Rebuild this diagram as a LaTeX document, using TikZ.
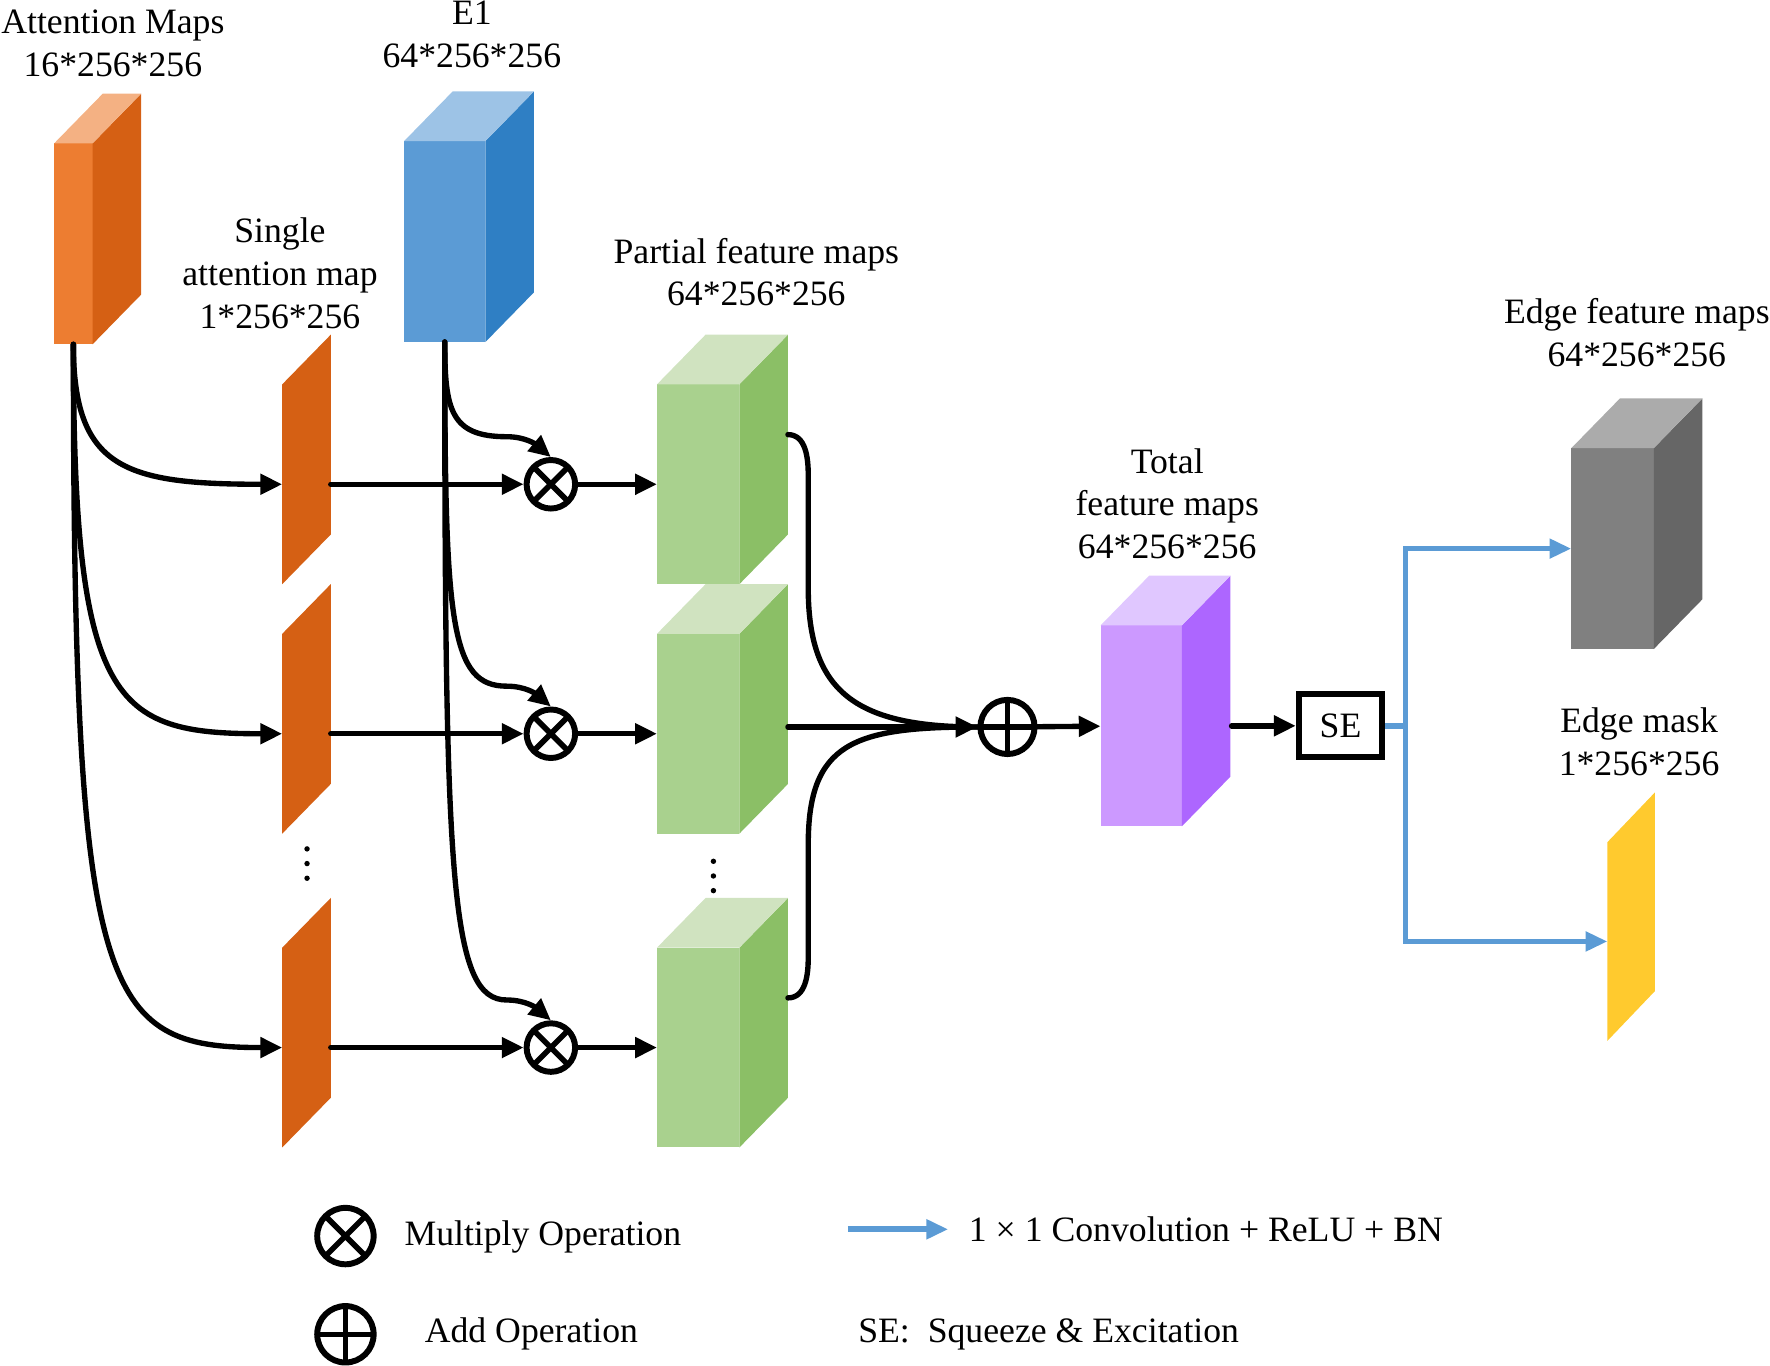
\documentclass[tikz,border=0pt]{standalone}
\usepackage{fontspec}
\setmainfont{Liberation Serif}
\usetikzlibrary{arrows.meta,calc}

\definecolor{orgF}{RGB}{237,125,49}
\definecolor{orgS}{RGB}{213,96,20}
\definecolor{orgT}{RGB}{244,177,131}
\definecolor{bluF}{RGB}{91,155,213}
\definecolor{bluS}{RGB}{47,127,196}
\definecolor{bluT}{RGB}{157,195,230}
\definecolor{grnF}{RGB}{169,209,142}
\definecolor{grnS}{RGB}{139,191,102}
\definecolor{grnT}{RGB}{208,227,192}
\definecolor{prpF}{RGB}{204,153,255}
\definecolor{prpS}{RGB}{173,102,255}
\definecolor{prpT}{RGB}{224,199,255}
\definecolor{gryF}{RGB}{128,128,128}
\definecolor{gryS}{RGB}{102,102,102}
\definecolor{gryT}{RGB}{171,171,171}
\definecolor{ylw}{RGB}{255,202,46}
\definecolor{convblue}{RGB}{91,155,213}

\tikzset{
    lbl/.style={align=center,inner sep=0pt,font=\fontsize{18}{21.5}\selectfont},
    conn/.style={line width=2.7pt,line cap=round},
    arr/.style={-{Triangle[length=11pt,width=10pt]}},
    conv/.style={line width=2.7pt,convblue,-{Triangle[length=11pt,width=9.5pt]}},
    mulop/.style={circle,draw,line width=3pt,minimum size=0.86cm,inner sep=0pt,
        path picture={\draw[line width=2.8pt]
            (path picture bounding box.north west)--(path picture bounding box.south east)
            (path picture bounding box.north east)--(path picture bounding box.south west);}},
    addop/.style={circle,draw,line width=3pt,minimum size=0.96cm,inner sep=0pt,
        path picture={\draw[line width=2.8pt]
            (path picture bounding box.north)--(path picture bounding box.south)
            (path picture bounding box.west)--(path picture bounding box.east);}},
}

% front face as a node, side and top faces behind it
\newcommand{\cuboid}[5]{%
    \node[fill=#5F,minimum width=#3*0.02cm,minimum height=#4*0.02cm,inner sep=0pt,outer sep=0pt] (#1) at (#2) {};
    \fill[#5S] (#1.north east) -- ++(43,44) -- ++(0,-#4) -- (#1.south east) -- cycle;
    \fill[#5T] (#1.north west) -- ++(43,44) -- ++(#3,0) -- (#1.north east) -- cycle;
}
% a single slice, seen from the side
\newcommand{\slab}[5]{%
    \node[minimum width=#3*0.02cm,minimum height=#4*0.02cm,inner sep=0pt,outer sep=0pt] (#1) at (#2) {};
    \fill[#5] (#1.south west) -- (#1.north west) -- ($(#1.north east)+(0,44)$) -- ($(#1.south east)+(0,44)$) -- cycle;
}

\begin{document}
\begin{tikzpicture}[x=0.02cm,y=0.02cm]
    \useasboundingbox (0,0) rectangle (1568,-1210);

    \cuboid{att}{65,-216}{34}{178}{org}
    \cuboid{eone}{394,-214}{72}{178}{blu}
    \node[lbl] (attlbl) at (100,-38.5) {Attention Maps\\16*256*256};
    \node[lbl] (eonelbl) at (418,-30.5) {E1\\64*256*256};
    \node[lbl] (slbl) at (248,-242) {Single\\attention map\\1*256*256};
    \node[lbl] (glbl) at (670,-241) {Partial feature maps\\64*256*256};

    \foreach \r/\y/\a/\b/\e in {1/-429/2.2/2.8/1.2, 2/-650/6.4/3/5, 3/-928/11.6/3.2/9.6}{
        \slab{s\r}{271.5,\y}{43}{177}{orgS}
        \node[mulop] (m\r) at (488,\y) {};
        \cuboid{g\r}{618.5,\y}{73}{177}{grn}
        \draw[conn,arr] (att.south) to[out=-90,in=180,out distance=\a cm,in distance=\b cm] (s\r.west);
        \draw[conn,arr] (s\r.east) -- (m\r);
        \draw[conn,arr] (eone.south) to[out=-90,in=180,out distance=\e cm,in distance=1cm]
            ($(m\r.north)+(-39,18)$) to[out=0,in=140] (m\r.north);
        \draw[conn,arr] (m\r) -- (g\r);
    }

    \foreach \d in {0,1,2}{
        \fill (272,-752-13*\d) circle (2.4);
        \fill (632,-763-13*\d) circle (2.4);
    }

    \coordinate (g1r) at ($(g1.east)+(43,44)$);
    \coordinate (g2r) at ($(g2.east)+(43,44)$);
    \coordinate (g3r) at ($(g3.east)+(43,44)$);
    \node[addop] (sum) at (892.5,-644) {};
    \draw[conn] (g1r) to[out=0,in=90] ++(18,-36) -- ++(0,-100)
        .. controls +(0,-90) and +(-110,0) .. (sum.west);
    \draw[conn] (g3r) to[out=0,in=-90] ++(18,36) -- ++(0,100)
        .. controls +(0,90) and +(-110,0) .. (sum.west);
    \draw[conn,arr] (sum.west -| g2r) -- (sum.west);

    \cuboid{tot}{1011,-643}{72}{178}{prp}
    \node[lbl] (totlbl) at (1034,-446) {Total\\feature maps\\64*256*256};
    \draw[conn,arr] (sum) -- (tot);
    \node[lbl,draw,line width=3pt,minimum width=1.48cm,minimum height=1.12cm] (se) at (1187.5,-643) {SE};
    \draw[conn,arr] ($(tot.east)+(44,0)$) -- (se);

    \cuboid{edg}{1428.5,-486}{73}{178}{gry}
    \node[lbl] (edglbl) at (1450,-294.5) {Edge feature maps\\64*256*256};
    \slab{msk}{1445,-834}{42}{176}{ylw}
    \node[lbl] (msklbl) at (1452,-657) {Edge mask\\1*256*256};
    \draw[conv] (se.east) -- ++(18,0) |- (edg.west);
    \draw[conv] (se.east) -- ++(18,0) |- (msk.west);

    \node[mulop,minimum size=1cm] (lmul) at (306,-1095) {};
    \node[lbl,anchor=west] (lmultxt) at (358,-1096) {Multiply Operation};
    \node[addop,minimum size=1cm] (ladd) at (306,-1182) {};
    \node[lbl,anchor=west] (laddtxt) at (376,-1182) {Add Operation};
    \coordinate (lconv) at (751,-1089);
    \node[lbl,anchor=west,inner xsep=0.36cm] (lconvtxt) at (840,-1089) {1 × 1 Convolution + ReLU + BN};
    \draw[conv,line width=3.2pt] (lconv) -- (lconvtxt);
    \node[lbl,anchor=west] (lsetxt) at (760,-1182) {SE:\ \ Squeeze \& Excitation};
\end{tikzpicture}
\end{document}
